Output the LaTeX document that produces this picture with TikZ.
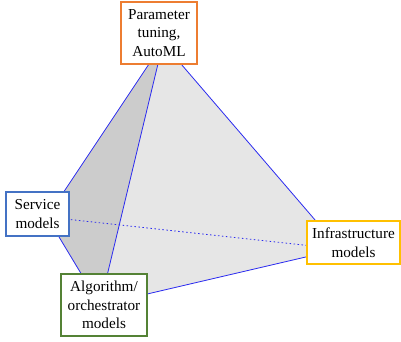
\documentclass[tikz,border=0pt]{standalone}
\usepackage{fontspec}
\setmainfont{Liberation Serif}
\definecolor{edgeblue}{HTML}{2A2AF0}
\definecolor{boxorange}{HTML}{ED7D31}
\definecolor{boxblue}{HTML}{4472C4}
\definecolor{boxgreen}{HTML}{548235}
\definecolor{boxyellow}{HTML}{FFC000}
\definecolor{facedark}{HTML}{CCCCCC}
\definecolor{facelight}{HTML}{E6E6E6}
\tikzset{
  labelbox/.style={draw, line width=1.8pt, fill=white, align=center, inner sep=0pt,
    font=\fontsize{15.2}{18.5}\selectfont},
  edge/.style={draw=edgeblue, line width=0.8pt},
  hiddenedge/.style={draw=edgeblue, line width=0.8pt, dash pattern=on 1.5pt off 2.5pt},
}
\begin{document}
\begin{tikzpicture}[x=1pt,y=-1pt]
\useasboundingbox (0,0) rectangle (401,341);
% tetrahedron vertices
\coordinate (T) at (163,43);
\coordinate (S) at (47,217);
\coordinate (A) at (100,305);
\coordinate (I) at (340,249);
% faces
\fill[facelight] (T) -- (A) -- (I) -- cycle;
\fill[facedark] (T) -- (S) -- (A) -- cycle;
% edges
\draw[hiddenedge] (S) -- (I);
\draw[edge] (T) -- (S);
\draw[edge] (T) -- (A);
\draw[edge] (T) -- (I);
\draw[edge] (S) -- (A);
\draw[edge] (A) -- (I);
% boxes
\node[labelbox, draw=boxorange, minimum width=76pt, minimum height=62pt] (param) at (159,33) {Parameter\\tuning,\\AutoML};
\node[labelbox, draw=boxblue, minimum width=63pt, minimum height=44pt] (service) at (37.5,214) {Service\\models};
\node[labelbox, draw=boxgreen, minimum width=86pt, minimum height=62pt] (algo) at (104,305) {Algorithm/\\orchestrator\\models};
\node[labelbox, draw=boxyellow, minimum width=93pt, minimum height=43pt] (infra) at (353.5,242.5) {Infrastructure\\models};
\end{tikzpicture}
\end{document}
